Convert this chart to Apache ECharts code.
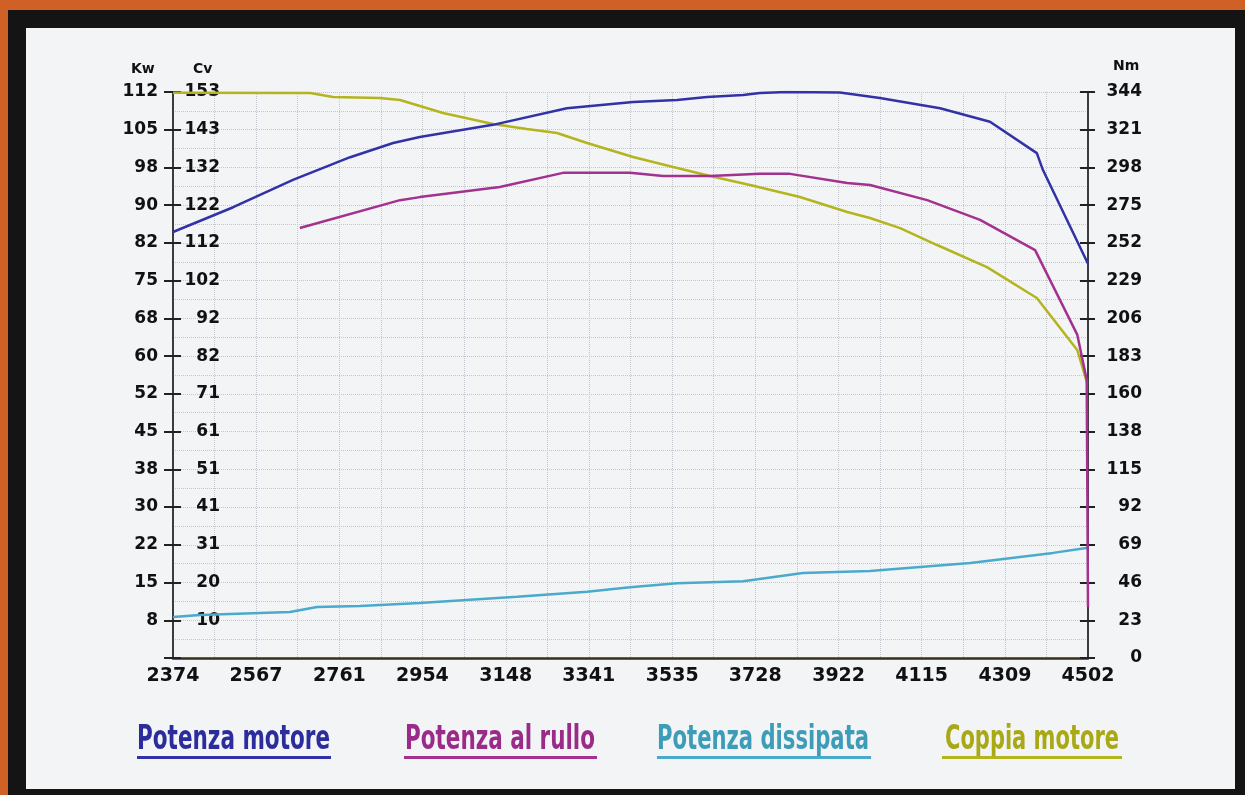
<!DOCTYPE html>
<html><head><meta charset="utf-8">
<script src="https://cdn.jsdelivr.net/npm/echarts@6/dist/echarts.min.js"></script>
<style>
html,body{margin:0;padding:0;width:1245px;height:795px;overflow:hidden;background:#cf6127;}
#frame{position:absolute;left:8px;top:10px;width:1237px;height:785px;background:#141414;}
#panel{position:absolute;left:26px;top:28px;width:1209px;height:761px;background:#f2f4f6;}
#chart{position:absolute;left:0;top:0;width:1245px;height:795px;}
</style></head><body>
<div id="frame"></div><div id="panel"></div><div id="chart"></div>
<script>
// ---- tick labels ----
const rpmTicks = [2374, 2567, 2761, 2954, 3148, 3341, 3535, 3728, 3922, 4115, 4309, 4502];
const kwLabels = ['', '8', '15', '22', '30', '38', '45', '52', '60', '68', '75', '82', '90', '98', '105', '112'];
const cvLabels = ['', '10', '20', '31', '41', '51', '61', '71', '82', '92', '102', '112', '122', '132', '143', '153'];
const nmLabels = ['0', '23', '46', '69', '92', '115', '138', '160', '183', '206', '229', '252', '275', '298', '321', '344'];
const kwMax = 112, cvMax = 153, nmMax = 344;

// ---- series names ----
const seriesNames = ['Potenza motore', 'Potenza al rullo', 'Potenza dissipata', 'Coppia motore'];

// ---- Potenza motore (Kw) ----
const motoreRpm = [2374, 2514, 2653, 2786, 2886, 2948, 3118, 3290, 3444, 3546, 3616, 3700, 3739, 3802, 3925, 4018, 4158, 4274, 4383, 4397, 4502];
const motoreKw  = [84.3, 89.2, 94.6, 99.1, 101.9, 103.1, 105.5, 108.8, 110.0, 110.4, 111.0, 111.4, 111.8, 112.0, 111.9, 110.8, 108.8, 106.1, 99.9, 96.6, 78.0];

// ---- Potenza al rullo (Kw) ----
const rulloRpm = [2669, 2902, 2948, 3134, 3281, 3437, 3514, 3623, 3739, 3809, 3942, 3995, 4128, 4251, 4379, 4477, 4499, 4502];
const rulloKw  = [85.1, 90.6, 91.2, 93.2, 96.0, 96.0, 95.4, 95.4, 95.8, 95.8, 94.0, 93.6, 90.6, 86.7, 80.7, 64.0, 55.0, 10.1];

// ---- Potenza dissipata (Kw) ----
const dissRpm = [2374, 2437, 2646, 2709, 2809, 2948, 3174, 3337, 3437, 3546, 3700, 3839, 3995, 4228, 4421, 4502];
const dissKw  = [8.1, 8.5, 9.1, 10.1, 10.3, 10.9, 12.1, 13.1, 14.0, 14.8, 15.2, 16.8, 17.2, 18.8, 20.8, 21.8];

// ---- Coppia motore (Nm) ----
const coppiaRpm = [2374, 2693, 2746, 2855, 2902, 3002, 3118, 3197, 3267, 3337, 3444, 3537, 3623, 3716, 3832, 3942, 3995, 4065, 4151, 4267, 4383, 4477, 4500];
const coppiaNm  = [343.5, 343.4, 341.0, 340.4, 339.1, 331.2, 324.5, 321.5, 319.1, 313.0, 304.5, 298.4, 292.9, 287.5, 280.2, 271.1, 267.4, 261.3, 251.0, 237.6, 218.8, 187.2, 167.1];

const zip = (a, b) => a.map((v, i) => [v, b[i]]);
const kwStep = kwMax / 15, cvStep = cvMax / 15, nmStep = nmMax / 15;

// grid lines: major ticks plus midpoints
const gridX = [];
rpmTicks.forEach((v, i) => { gridX.push(v); if (i < rpmTicks.length - 1) gridX.push((v + rpmTicks[i + 1]) / 2); });

const lineColors = ['#3232a6', '#a2318f', '#4aaacb', '#b4b41e'];
const textColors = ['#2c2c9c', '#9b2b89', '#3d9db8', '#a9a916'];

const labelFont = { color: '#111', fontFamily: 'DejaVu Sans', fontWeight: 'bold', fontSize: 17 };
const gridLine = { show: true, lineStyle: { color: '#c3c7cd', type: 'dotted', width: 1 } };

// legend-like labels drawn as graphics
const legendPos = [{ x: 137, w: 193 }, { x: 405, w: 190 }, { x: 657, w: 212 }, { x: 945, w: 174 }];
const underline = [{ x: 137, w: 194 }, { x: 404, w: 193 }, { x: 657, w: 214 }, { x: 942, w: 180 }];
const legFont = 'bold 34px "Liberation Sans Narrow", "DejaVu Sans Condensed", sans-serif';
const ctx = document.createElement('canvas').getContext('2d');
ctx.font = legFont;
const graphics = [];
seriesNames.forEach((n, i) => {
  const w = ctx.measureText(n).width || legendPos[i].w;
  graphics.push({ type: 'text', x: legendPos[i].x, y: 740, scaleX: legendPos[i].w / w,
    style: { text: n, font: legFont, fill: textColors[i], textVerticalAlign: 'middle' } });
  graphics.push({ type: 'rect', shape: { x: underline[i].x, y: 756, width: underline[i].w, height: 3 },
    style: { fill: lineColors[i] } });
});
const nameFont = 'bold 14px "DejaVu Sans"';
graphics.push({ type: 'text', x: 131, y: 69, style: { text: 'Kw', font: nameFont, fill: '#111', textVerticalAlign: 'middle' } });
graphics.push({ type: 'text', x: 193, y: 69, style: { text: 'Cv', font: nameFont, fill: '#111', textVerticalAlign: 'middle' } });
graphics.push({ type: 'text', x: 1113, y: 66, style: { text: 'Nm', font: nameFont, fill: '#111', textVerticalAlign: 'middle' } });

const chart = echarts.init(document.getElementById('chart'), null, { renderer: 'canvas' });
chart.setOption({
  animation: false,
  grid: { left: 173, right: 157, top: 92, bottom: 137, containLabel: false },
  xAxis: {
    type: 'value', min: rpmTicks[0], max: rpmTicks[rpmTicks.length - 1],
    axisLine: { show: true, onZero: false, lineStyle: { color: '#3a2d16', width: 2.5 } },
    axisTick: { show: false, customValues: gridX },
    axisLabel: Object.assign({}, labelFont, { fontSize: 19, margin: 9, customValues: rpmTicks, formatter: v => String(v) }),
    splitLine: gridLine
  },
  yAxis: [
    { type: 'value', position: 'left', offset: 0, min: 0, max: kwMax, interval: kwStep,
      axisLine: { show: true, lineStyle: { color: '#3c3c3c', width: 2 } },
      axisTick: { show: true, inside: false, length: 9, lineStyle: { color: '#222', width: 2 } },
      axisLabel: Object.assign({}, labelFont, { margin: 15, formatter: v => kwLabels[Math.round(v / kwStep)] }),
      splitLine: gridLine,
      minorTick: { show: false, splitNumber: 2 },
      minorSplitLine: { show: true, lineStyle: { color: '#c3c7cd', type: 'dotted', width: 1 } } },
    { type: 'value', position: 'left', offset: 0, min: 0, max: cvMax, interval: cvStep,
      axisLine: { show: false },
      axisTick: { show: true, inside: true, length: 8, lineStyle: { color: '#222', width: 2 } },
      axisLabel: Object.assign({}, labelFont, { inside: true, align: 'right', margin: 47, formatter: v => cvLabels[Math.round(v / cvStep)] }),
      splitLine: { show: false } },
    { type: 'value', position: 'right', offset: 0, min: 0, max: nmMax, interval: nmStep,
      axisLine: { show: true, lineStyle: { color: '#3c3c3c', width: 2 } },
      axisTick: { show: true, inside: false, length: 7, lineStyle: { color: '#222', width: 2 } },
      axisLabel: Object.assign({}, labelFont, { align: 'right', margin: 54, formatter: v => nmLabels[Math.round(v / nmStep)] }),
      splitLine: { show: false } },
    { type: 'value', position: 'right', offset: 0, min: 0, max: nmMax, interval: nmStep,
      axisLine: { show: false },
      axisTick: { show: true, inside: true, length: 8, lineStyle: { color: '#222', width: 2 } },
      axisLabel: { show: false },
      splitLine: { show: false } }
  ],
  series: [
    { name: seriesNames[3], type: 'line', yAxisIndex: 2, data: zip(coppiaRpm, coppiaNm), showSymbol: false, lineStyle: { color: lineColors[3], width: 2.5 }, z: 3 },
    { name: seriesNames[2], type: 'line', yAxisIndex: 0, data: zip(dissRpm, dissKw), showSymbol: false, lineStyle: { color: lineColors[2], width: 2.5 }, z: 3 },
    { name: seriesNames[1], type: 'line', yAxisIndex: 0, data: zip(rulloRpm, rulloKw), showSymbol: false, lineStyle: { color: lineColors[1], width: 2.5 }, z: 4 },
    { name: seriesNames[0], type: 'line', yAxisIndex: 0, data: zip(motoreRpm, motoreKw), showSymbol: false, lineStyle: { color: lineColors[0], width: 2.5 }, z: 5 }
  ],
  graphic: graphics
});
</script></body></html>
